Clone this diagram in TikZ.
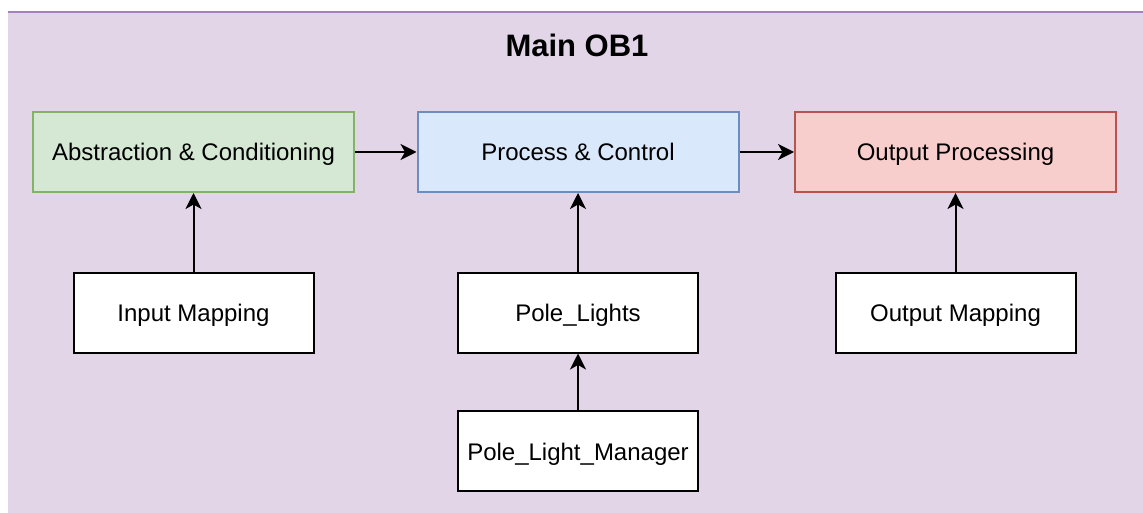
\documentclass[tikz,border=0pt]{standalone}
\usepackage{fontspec}
\setmainfont{Liberation Sans}
\usetikzlibrary{arrows.meta}
\definecolor{bgfill}{HTML}{E1D5E7}
\definecolor{bgline}{HTML}{A680B8}
\definecolor{gfill}{HTML}{D5E8D4}
\definecolor{gline}{HTML}{82B366}
\definecolor{bfill}{HTML}{DAE8FC}
\definecolor{bline}{HTML}{6C8EBF}
\definecolor{rfill}{HTML}{F8CECC}
\definecolor{rline}{HTML}{B85450}
\tikzset{
  box/.style={rectangle, draw=black, fill=white, line width=2pt, inner sep=0pt,
    font=\fontsize{24}{29}\selectfont, text=black, text height=20pt, text depth=2pt},
  topbox/.style={box, minimum width=321pt, minimum height=80pt},
  lowbox/.style={box, minimum width=240pt, minimum height=80pt},
  conn/.style={line width=2pt, -{Stealth[length=16pt,width=16pt,inset=4.5pt]}},
}
\begin{document}
\begin{tikzpicture}[x=1pt,y=-1pt]
\useasboundingbox (0,0) rectangle (1143,513);
\fill[bgfill] (8,11) rectangle (1143,513);
\draw[bgline, line width=2pt] (8,12) -- (1143,12);
\node[font=\fontsize{31}{36}\selectfont\bfseries] (title) at (577,45) {Main OB1};
\node[topbox, fill=gfill, draw=gline] (abs) at (193.5,152) {Abstraction \& Conditioning};
\node[topbox, fill=bfill, draw=bline] (proc) at (578,152) {Process \& Control};
\node[topbox, fill=rfill, draw=rline] (outp) at (955.5,152) {Output Processing};
\node[lowbox] (inmap) at (193.5,312.5) {Input Mapping};
\node[lowbox] (pole) at (578,312.5) {Pole\_Lights};
\node[lowbox] (outmap) at (955.5,312.5) {Output Mapping};
\node[lowbox] (mgr) at (578,451) {Pole\_Light\_Manager};
\draw[conn] (abs) -- (proc);
\draw[conn] (proc) -- (outp);
\draw[conn] (inmap) -- (abs);
\draw[conn] (pole) -- (proc);
\draw[conn] (outmap) -- (outp);
\draw[conn] (mgr) -- (pole);
\end{tikzpicture}
\end{document}
